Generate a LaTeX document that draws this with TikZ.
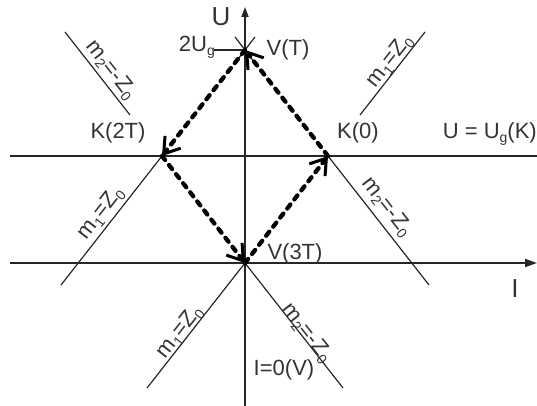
\documentclass[tikz,border=0pt]{standalone}
\usepackage{fontspec}
\setmainfont{Liberation Sans}
\usetikzlibrary{arrows.meta}
\newcommand\sbx[1]{\raisebox{-4pt}{\fontsize{14}{14}\selectfont #1}}
\tikzset{
  axisline/.style={line width=1.7pt, black!85},
  thinline/.style={line width=1.2pt, black!85},
  flow/.style={line width=4.3pt, black, line cap=round, dash pattern=on 5pt off 6.5pt,
    -{Straight Barb[length=15pt,width=20pt,line width=3pt]}},
  lbl/.style={font=\fontsize{22}{25}\selectfont, text=black!80, inner sep=0pt},
  biglbl/.style={font=\fontsize{26}{29}\selectfont, text=black!80, inner sep=0pt},
}
\begin{document}
\begin{tikzpicture}[x=1pt,y=-1pt]
\useasboundingbox (0,0) rectangle (537,406);
% key points
\coordinate (VT) at (245,50);
\coordinate (K0) at (328,156);
\coordinate (V3T) at (245,263);
\coordinate (K2T) at (162,156);
% axes
\coordinate (Ubot) at (245,406);
\coordinate (Utop) at (245,7);
\coordinate (Ileft) at (10,263);
\coordinate (Iright) at (537,263);
\coordinate (Gleft) at (10,156);
\coordinate (Gright) at (537,156);
\draw[axisline,-{Triangle[length=10pt,width=7pt]}] (Ubot) -- (Utop);
\draw[axisline,-{Triangle[length=12pt,width=8pt]}] (Ileft) -- (Iright);
\draw[axisline] (Gleft) -- (Gright);
% tick for 2Ug
\coordinate (tick) at (214,50);
\draw[thinline] (tick) -- (VT);
% small cross at V(T)
\coordinate (x1a) at (235,37); \coordinate (x1b) at (255,63);
\coordinate (x2a) at (255,37); \coordinate (x2b) at (235,63);
\draw[thinline] (x1a) -- (x1b);
\draw[thinline] (x2a) -- (x2b);
% characteristic lines
\coordinate (a1) at (65,32);  \coordinate (a2) at (130,115);
\coordinate (b1) at (360,115); \coordinate (b2) at (425,32);
\coordinate (c2) at (61,285);
\coordinate (d2) at (429,285);
\coordinate (e2) at (147,388);
\coordinate (f2) at (343,388);
\draw[thinline] (a1) -- (a2);
\draw[thinline] (b1) -- (b2);
\draw[thinline] (K2T) -- (c2);
\draw[thinline] (K0) -- (d2);
\draw[thinline] (V3T) -- (e2);
\draw[thinline] (V3T) -- (f2);
% dashed cycle
\draw[flow] (K0) -- (VT);
\draw[flow] (VT) -- (K2T);
\draw[flow] (K2T) -- (V3T);
\draw[flow] (V3T) -- (K0);
% labels
\node[biglbl] (lU) at (221,17) {U};
\node[biglbl] (lI) at (515,289) {I};
\node[lbl, anchor=east] (l2Ug) at (215,47) {2U\sbx{g}};
\node[lbl] (lVT) at (288,50) {V(T)};
\node[lbl] (lK2T) at (118,133) {K(2T)};
\node[lbl] (lK0) at (358,133) {K(0)};
\node[lbl, anchor=east] (lUg) at (537,134) {U = U\sbx{g}(K)};
\node[lbl] (lV3T) at (295,254) {V(3T)};
\node[lbl] (lI0) at (284,370) {I=0(V)};
\node[lbl, rotate=-52] (m2a) at (111,70) {m\sbx{2}=-Z\sbx{0}};
\node[lbl, rotate=52] (m1a) at (390,61) {m\sbx{1}=Z\sbx{0}};
\node[lbl, rotate=52] (m1b) at (101,213) {m\sbx{1}=Z\sbx{0}};
\node[lbl, rotate=-52] (m2b) at (387,207) {m\sbx{2}=-Z\sbx{0}};
\node[lbl, rotate=52] (m1c) at (180,332) {m\sbx{1}=Z\sbx{0}};
\node[lbl, rotate=-52] (m2c) at (307,333) {m\sbx{2}=-Z\sbx{0}};
\end{tikzpicture}
\end{document}
